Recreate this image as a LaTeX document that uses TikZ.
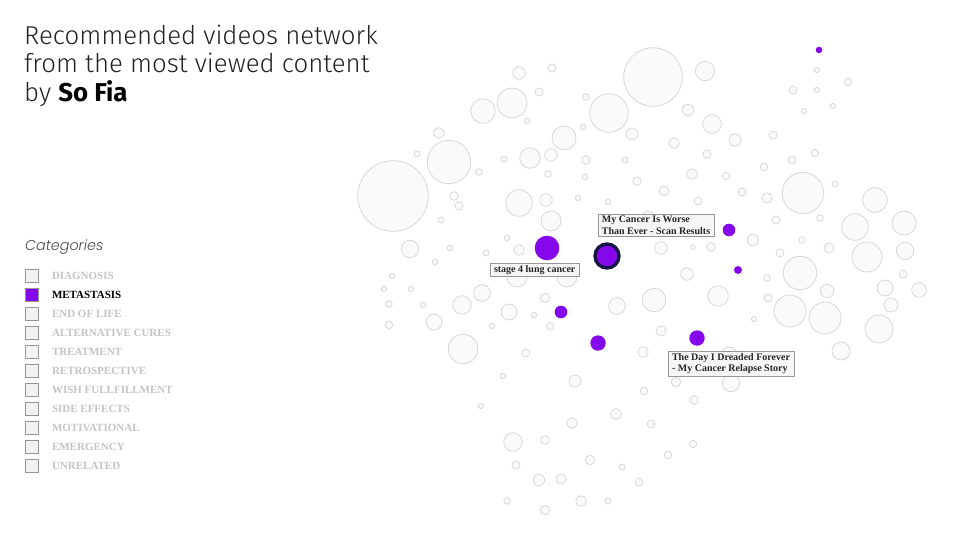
\documentclass[tikz,border=0pt]{standalone}
\usepackage{fontspec}
\usetikzlibrary{positioning}
\setmainfont{Liberation Serif}
\newfontfamily\titlefont{Fira Sans}[UprightFont={* Light}, ItalicFont={* Light Italic}, BoldFont={* Bold}]
\newfontfamily\legendfont{Poppins}[UprightFont={* Light}, ItalicFont={* Light Italic}]

\definecolor{bubbleline}{RGB}{216,216,216}
\definecolor{bubblefill}{RGB}{250,250,250}
\definecolor{metapurple}{RGB}{133,8,236}
\definecolor{ringnavy}{RGB}{22,22,72}
\definecolor{mutedcat}{RGB}{196,196,196}
\definecolor{boxline}{RGB}{150,150,150}
\definecolor{boxfill}{RGB}{242,242,242}
\definecolor{tipline}{RGB}{150,150,150}
\definecolor{tipfill}{RGB}{245,245,245}
\definecolor{titleink}{RGB}{34,34,34}

\begin{document}
\begin{tikzpicture}[x=1pt, y=-1pt,
  bubble/.style={draw=bubbleline, fill=bubblefill, line width=0.8pt},
  pick/.style={fill=metapurple},
  tip/.style={draw=tipline, fill=tipfill, fill opacity=0.85, text opacity=1,
    text=black!85, font=\bfseries\fontsize{10}{11.5}\selectfont, align=left,
    inner xsep=4pt, inner ysep=2pt, line width=0.6pt},
  catbox/.style={draw=boxline, minimum size=13pt, inner sep=0pt, line width=0.6pt},
  catlabel/.style={anchor=west, inner sep=0pt, font=\bfseries\fontsize{11}{12}\selectfont},
  headline/.style={anchor=base west, inner sep=0pt, text=titleink,
    font=\titlefont\fontsize{25.8}{28}\selectfont}]

  % Canvas
  \fill[white] (0,0) rectangle (960,540);
  \useasboundingbox (0,0) rectangle (960,540);

  % Title
  \node[headline] (title1) at (24,45) {Recommended videos network};
  \node[headline] (title2) at (24,73) {from the most viewed content};
  \node[headline] (title3) at (24,102) {by \textcolor{black}{\bfseries So Fia}};

  % Legend
  \node[anchor=base west, inner sep=0pt, text=black!70,
    font=\legendfont\itshape\fontsize{14.3}{16}\selectfont] (legendhead) at (25,250) {Categories};
  \foreach \cat/\bfill/\ctext [count=\i from 0] in {
      DIAGNOSIS/boxfill/mutedcat, METASTASIS/metapurple/black,
      END OF LIFE/boxfill/mutedcat, ALTERNATIVE CURES/boxfill/mutedcat,
      TREATMENT/boxfill/mutedcat, RETROSPECTIVE/boxfill/mutedcat,
      WISH FULLFILLMENT/boxfill/mutedcat, SIDE EFFECTS/boxfill/mutedcat,
      MOTIVATIONAL/boxfill/mutedcat, EMERGENCY/boxfill/mutedcat,
      UNRELATED/boxfill/mutedcat} {
    \node[catbox, fill=\bfill] (box\i) at (32,275.7+19*\i) {};
    \node[catlabel, text=\ctext, right=13pt of box\i] (cat\i) {\cat};
  }

  % Grey bubbles
  \foreach \x/\y/\r in {
      653/77/29.3, 519/73/6.3, 552/68/4, 539/92/4, 512/103/15, 483/111/12.3,
      527/121/2.7, 586/97/3.3, 609/113/19.3, 564/138/12, 583/127/2.7, 632/134/6,
      439/133/5.3, 449/162/21.7, 417/154/3, 530/158/10.3, 551/155/6.3, 504/159/3,
      586/160/4.3, 625/160/3, 548/174/3.3, 585/177/3, 637/181/4.3, 479/172/3.3,
      393/196/35.3, 454/196/4.3, 459/206/4, 519/203/13.3, 546/200/6.3, 578/198/2.7,
      608/202/2.7, 664/191/5, 441/220/3, 551/221/10, 410/249/8.7, 450/248/2.7,
      435/262/2.7, 486/253/3, 507/238/2.7, 519/250/5.3, 661/248/6.3, 392/276/2.7,
      817/70/2.7, 848/82/3.7, 793/90/4, 817/90/2.7, 804/111/2.7, 833/106/2.7,
      705/71/9.7, 688/110/5.7, 712/124/9.3, 735/140/6, 773/135/4, 674/143/5.3,
      707/154/4, 815/153/3.7, 792/160/4, 764/167/3.7, 692/174/5.3, 726/176/3.7,
      698/201/4, 742/192/4, 767/198/5, 803/193/20.7, 835/184/3, 875/200/12.3,
      776/220/4, 820/218/3.3, 855/227/13.3, 904/223/12, 753/240/5.7, 693/247/2.3,
      711/247/4.3, 802/240/3.3, 780/253/4, 829/248/5, 867/257/15, 905/251/8.7,
      687/274/6.3, 767/278/3.3, 800/273/16.7, 903/274/4,
      718/296/10.3, 768/298/4, 827/291/6.7, 885/288/8, 919/290/7.3, 891/305/7,
      790/311/16, 825/318/16, 754/319/2.7, 879/329/14, 841/351/9, 676/382/4.7,
      731/383/8.7, 694/400/4.3, 693/444/3.7, 668/455/3.7, 729/355/8,
      384/289/2.7, 411/289/2.7, 482/293/8.3, 389/304/3.3, 423/305/2.7, 462/305/9.3,
      509/312/8, 545/298/4.7, 534/315/2.7, 550/326/3.7, 389/325/3.7, 434/322/8,
      492/326/2.7, 617/306/8.3, 654/300/11.7, 661/331/5, 463/349/14.7, 526/353/4,
      643/352/5.3, 503/376/2.7, 575/381/6, 644/391/3.7, 481/406/2.7, 616/414/5.3,
      572/423/5.3, 651/424/4, 513/442/9.3, 545/440/4.3, 516/465/4, 590/460/4.7,
      622/467/3, 539/480/5.7, 561/479/5, 639/482/4, 507/501/3.3, 581/501/5.3,
      608/501/3, 545/510/4.7,
      517/277/10, 567/277/10, 648/218/6.7, 679/222/7}
    \draw[bubble] (\x,\y) circle[radius=\r pt];

  % Metastasis bubbles
  \foreach \x/\y/\r in {547/248/12.3, 729/230/6.3, 738/270/4, 819/50/3.3,
      561/312/6.3, 598/343/7.7, 697/338/7.7}
    \fill[pick] (\x,\y) circle[radius=\r pt];

  % Selected video
  \draw[pick, draw=ringnavy, line width=3.4pt] (607,256) circle[radius=12pt];

  % Video titles
  \node[tip] (lungtip) at (534.7,269.8) {stage 4 lung cancer};
  \node[tip] (worsetip) at (656,225.3) {My Cancer Is Worse\\Than Ever - Scan Results};
  \node[tip] (relapsetip) at (731,363.8) {The Day I Dreaded Forever\\- My Cancer Relapse Story};
\end{tikzpicture}
\end{document}
